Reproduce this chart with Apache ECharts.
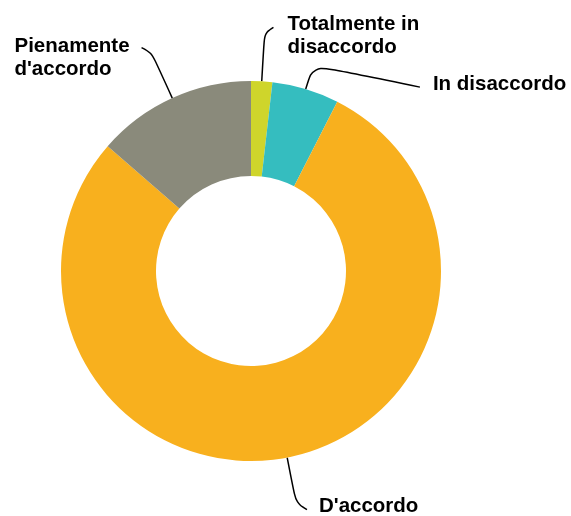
<!DOCTYPE html>
<html>
<head>
<meta charset="utf-8">
<script src="https://cdn.jsdelivr.net/npm/echarts@6/dist/echarts.min.js"></script>
<style>
  html, body { margin: 0; padding: 0; background: #fff; }
  #chart { width: 571px; height: 516px; }
</style>
</head>
<body>
<div id="chart"></div>
<script>
// ---- data ----
const categories = ['Totalmente in disaccordo', 'In disaccordo', "D'accordo", "Pienamente d'accordo"];
const values = [1.8, 5.7, 78.9, 13.6];
const labelTexts = ['Totalmente in\ndisaccordo', 'In disaccordo', "D'accordo", "Pienamente\nd'accordo"];

// ---- styling ----
const colors = ['#cfd52b', '#35bdbf', '#f8b01e', '#8a8a7b'];
const guideLen = [48, 25, 46, 50];
const guideHook = [[9, -6], [107, 22], [11, 7], [-10, -5]];
const labelGap = [14, 13, 12, 12];
const labelShiftY = [8, -3, -3, 10];

const chart = echarts.init(document.getElementById('chart'), null, { renderer: 'canvas' });

const data = categories.map((name, i) => ({
  name: name,
  value: values[i],
  itemStyle: { color: colors[i] },
  labelLine: { length: guideLen[i], length2: 5 }
}));

chart.setOption({
  animation: false,
  backgroundColor: '#ffffff',
  series: [{
    type: 'pie',
    center: [251, 271],
    radius: [95, 190],
    startAngle: 90,
    clockwise: true,
    avoidLabelOverlap: false,
    minShowLabelAngle: 0,
    data: data,
    label: {
      show: true,
      position: 'outside',
      formatter: p => labelTexts[p.dataIndex],
      color: '#000',
      fontFamily: '"Liberation Sans", Arial, sans-serif',
      fontWeight: 'bold',
      fontSize: 20.5,
      lineHeight: 23
    },
    labelLine: {
      show: true,
      smooth: 0.35,
      lineStyle: { color: '#000', width: 1.5 }
    },
    labelLayout: function (params) {
      const i = params.dataIndex;
      const pts = params.labelLinePoints;
      if (!pts) return {};
      const p0 = pts[0], p1 = pts[1];
      const p2 = [p1[0] + guideHook[i][0], p1[1] + guideHook[i][1]];
      const right = guideHook[i][0] >= 0;
      const w = params.labelRect ? params.labelRect.width : 0;
      return {
        x: right ? p2[0] + labelGap[i] : p2[0] - labelGap[i] - w,
        y: p2[1] + labelShiftY[i],
        align: 'left',
        verticalAlign: 'middle',
        labelLinePoints: [p0, p1, p2]
      };
    }
  }]
});
</script>
</body>
</html>
